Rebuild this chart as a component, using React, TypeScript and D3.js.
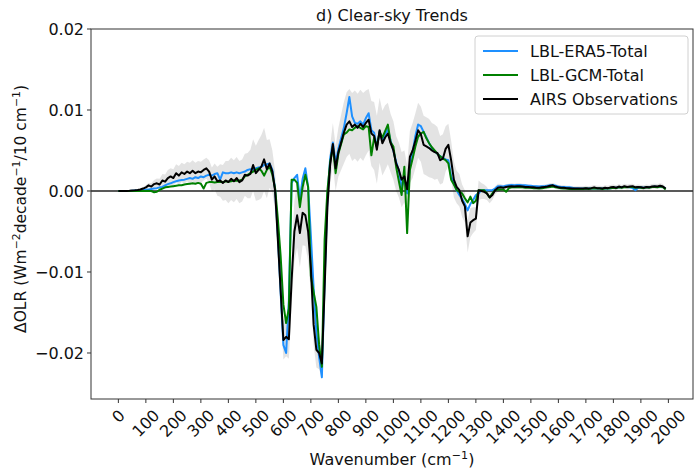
import React from 'react';
import * as d3 from 'd3';

// Spectral grid: 10 cm⁻¹ bins from 0 to 1990 cm⁻¹
const wavenumbers: number[] = d3.range(0, 2000, 10);

// All trend values below are in units of 10⁻³ W m⁻² decade⁻¹ / 10 cm⁻¹
const UNIT = 1e-3;

const era5Total = [
  0, 0, 0, 0, 0.01, 0.03, 0.05, 0.07, 0.1, 0.12,
  0.15, 0.2, 0.25, 0.3, 0.35, 0.45, 0.5, 0.7, 0.85, 0.95,
  1.1, 1.2, 1.3, 1.35, 1.4, 1.5, 1.6, 1.5, 1.7, 1.6,
  1.8, 1.7, 1.9, 2.0, 1.9, 2.1, 2.2, 1.4, 2.3, 2.2,
  2.2, 2.3, 2.2, 2.3, 2.2, 2.3, 2.4, 2.6, 2.7, 2.6,
  2.8, 2.9, 3.0, 3.2, 3.3, 3.4, 2.6, 0.2, -5.5, -12.5,
  -19.0, -20.0, -13.5, 1.0, 1.6, 2.0, -1.0, 1.5, 2.8, 0.5,
  -5.5, -12.0, -17.5, -20.5, -23.0, -11.0, -1.0, 4.0, 6.0, 3.5,
  5.2, 6.5, 7.8, 9.6, 11.6, 9.2, 8.4, 8.3, 8.6, 8.2,
  9.0, 9.6, 7.5, 7.2, 5.4, 7.4, 6.2, 7.0, 7.6, 6.2,
  5.0, 3.6, 2.5, 0.5, 1.5, -0.3, 3.0, 4.8, 6.8, 8.2,
  8.0, 7.3, 6.6, 5.9, 5.3, 4.9, 4.6, 4.3, 4.1, 3.9,
  3.8, 1.8, 1.0, 0.1, -0.5, -1.0, -1.6, -2.4, -1.6, -1.1,
  -0.5, -0.3, 0.1, 0.1, 0.1, 0.1, 0.1, 0.3, 0.6, 0.6,
  0.55, 0.65, 0.7, 0.75, 0.7, 0.75, 0.75, 0.7, 0.7, 0.65,
  0.65, 0.6, 0.6, 0.55, 0.6, 0.6, 0.65, 0.7, 0.75, 0.65,
  0.55, 0.5, 0.5, 0.45, 0.45, 0.4, 0.35, 0.35, 0.3, 0.3,
  0.3, 0.3, 0.3, 0.35, 0.3, 0.3, 0.3, 0.3, 0.3, 0.35,
  0.4, 0.4, 0.45, 0.45, 0.5, 0.5, 0.45, 0.35, 0.1, 0.4,
  0.45, 0.4, 0.45, 0.45, 0.5, 0.55, 0.5, 0.55, 0.5, 0.3,
];

const gcmTotal = [
  0, 0, 0, 0, 0, 0, 0, 0, 0, 0,
  0, 0.02, 0, -0.15, -0.1, 0.15, 0.3, 0.45, 0.5, 0.55,
  0.6, 0.65, 0.7, 0.7, 0.8, 0.85, 0.9, 0.95, 0.9, 1.0,
  0.9, 0.3, 1.0, 1.1, 1.1, 1.05, 1.1, 1.15, 1.1, 1.2,
  1.15, 1.2, 1.3, 1.25, 1.3, 1.4, 1.8, 2.0, 2.2, 2.4,
  2.6, 2.8, 2.5, 1.9, 2.6, 3.0, 2.0, 0.3, -3.5, -8.0,
  -14.0, -16.3, -14.5, 1.4, 1.4, 1.0, -2.0, 0.5, 2.0, 0.5,
  -10.5, -12.5, -14.3, -19.0, -21.7, -6.0, 0.0, 3.5, 5.5, 2.2,
  4.6, 5.8, 7.0, 7.2, 7.6, 7.5, 7.8, 8.0, 7.8, 7.6,
  8.0, 7.9, 4.4, 6.6, 5.5, 7.3, 6.6, 7.4, 8.2, 6.0,
  5.5, 3.0, 1.2, -0.5, 3.0, -5.2, 2.6, 4.0, 5.5, 6.7,
  7.1, 7.3, 6.5, 5.9, 5.4, 5.0, 4.6, 4.3, 4.0, 3.8,
  3.4, 1.4, 0.8, 0.1, -0.1, -0.3, -0.9, -1.4, -0.7, -1.5,
  -1.2, 0.1, 0.1, 0.1, -0.3, -0.8, -0.3, 0.1, 0.2, 0.2,
  0.2, -0.1, 0.35, 0.45, 0.45, 0.5, 0.45, 0.45, 0.4, 0.4,
  0.4, 0.35, 0.35, 0.3, 0.35, 0.4, 0.45, 0.5, 0.55, 0.45,
  0.4, 0.35, 0.3, 0.3, 0.25, 0.25, 0.25, 0.25, 0.25, 0.25,
  0.3, 0.25, 0.3, 0.35, 0.3, 0.3, 0.25, 0.3, 0.3, 0.35,
  0.4, 0.35, 0.45, 0.4, 0.5, 0.45, 0.5, 0.5, 0.4, 0.45,
  0.4, 0.35, 0.45, 0.4, 0.5, 0.5, 0.45, 0.55, 0.5, 0.2,
];

const airsObs = [
  0, 0, 0, 0, 0.02, 0.05, 0.08, 0.12, 0.18, 0.3,
  0.45, 0.7, 0.55, 0.85, 0.95, 0.8, 1.3, 1.15, 1.6, 1.8,
  1.6, 2.2, 1.9, 2.3, 2.1, 2.4, 2.2, 2.5, 2.2, 2.4,
  2.3, 2.6, 2.8, 2.4, 1.4, 1.8, 1.2, 1.3, 1.0, 1.3,
  1.1, 1.5, 1.2, 1.6, 1.1, 1.3, 2.0, 1.9, 2.1, 3.2,
  2.2, 2.6, 3.0, 3.9, 2.7, 3.4, 2.4, 0.0, -6.0, -12.2,
  -18.4, -18.0, -18.3, -11.0, -5.0, -3.0, -5.2, -2.7, -3.0, -5.0,
  -9.5, -16.5, -19.6, -20.0, -21.3, -12.0, -2.0, 3.2, 5.8, 2.8,
  4.8, 6.0, 7.2, 8.2, 8.6, 7.9, 8.2, 7.8, 8.3, 7.9,
  8.4, 8.8, 7.1, 6.8, 5.1, 7.5, 5.9, 6.6, 7.1, 5.9,
  5.0, 3.4, 2.6, 1.4, 1.8, 0.2, 4.2, 5.0, 6.2, 7.5,
  7.0, 5.7, 5.5, 5.3, 5.0, 4.8, 4.7, 3.8, 4.0, 5.2,
  5.7, 3.8, 1.4, 0.5, 0.1, -1.2, -1.9, -5.6, -3.9, -3.6,
  -3.4, 0.1, 0.0, -0.1, -0.3, -0.8, -0.5, 0.1, 0.4, 0.45,
  0.4, 0.5, 0.55, 0.6, 0.55, 0.6, 0.6, 0.55, 0.5, 0.5,
  0.45, 0.45, 0.4, 0.4, 0.45, 0.5, 0.55, 0.65, 0.7, 0.55,
  0.45, 0.4, 0.4, 0.35, 0.35, 0.3, 0.3, 0.3, 0.3, 0.3,
  0.35, 0.3, 0.35, 0.45, 0.35, 0.35, 0.3, 0.4, 0.35, 0.45,
  0.5, 0.4, 0.55, 0.45, 0.6, 0.5, 0.55, 0.6, 0.45, 0.5,
  0.45, 0.4, 0.5, 0.45, 0.55, 0.6, 0.55, 0.65, 0.55, 0.3,
];

// Half-width of the observational uncertainty envelope around the AIRS trend
const airsSpread = [
  0, 0, 0.02, 0.03, 0.05, 0.08, 0.1, 0.12, 0.15, 0.2,
  0.25, 0.3, 0.4, 0.5, 0.6, 0.7, 0.8, 0.9, 1.0, 1.0,
  1.1, 1.1, 1.2, 1.2, 1.2, 1.2, 1.3, 1.3, 1.3, 1.3,
  1.3, 1.3, 1.3, 1.4, 1.5, 1.6, 1.8, 2.0, 2.2, 2.4,
  2.6, 2.6, 2.6, 2.6, 2.6, 2.6, 2.6, 2.8, 3.0, 3.2,
  3.4, 3.7, 3.9, 3.9, 3.6, 3.0, 2.6, 2.4, 2.2, 2.2,
  2.4, 2.4, 2.4, 3.0, 3.8, 4.0, 4.2, 4.0, 3.8, 3.6,
  3.0, 2.5, 2.2, 2.0, 1.8, 2.0, 2.2, 2.4, 2.6, 2.8,
  3.0, 3.4, 3.8, 4.0, 4.0, 4.2, 4.2, 4.2, 4.2, 4.2,
  4.0, 3.8, 4.0, 4.2, 4.2, 4.0, 4.0, 4.0, 3.8, 3.6,
  3.6, 3.4, 3.4, 3.4, 3.2, 3.0, 3.2, 3.4, 3.4, 3.4,
  3.4, 3.6, 3.6, 3.6, 3.4, 3.4, 3.2, 3.0, 3.0, 2.8,
  2.6, 2.4, 2.2, 2.0, 2.0, 2.0, 2.0, 2.0, 1.8, 1.6,
  1.4, 1.2, 1.0, 0.9, 0.8, 0.7, 0.6, 0.5, 0.5, 0.4,
  0.35, 0.35, 0.35, 0.35, 0.35, 0.35, 0.35, 0.35, 0.35, 0.35,
  0.3, 0.3, 0.3, 0.3, 0.3, 0.3, 0.3, 0.3, 0.3, 0.3,
  0.3, 0.3, 0.3, 0.3, 0.3, 0.3, 0.3, 0.3, 0.3, 0.3,
  0.3, 0.3, 0.3, 0.3, 0.3, 0.3, 0.3, 0.3, 0.3, 0.3,
  0.3, 0.3, 0.3, 0.3, 0.3, 0.3, 0.3, 0.3, 0.3, 0.3,
  0.3, 0.3, 0.3, 0.3, 0.3, 0.3, 0.3, 0.3, 0.3, 0.2,
];

const xTicks = d3.range(0, 2100, 100);
const yTicks = [-0.02, -0.01, 0, 0.01, 0.02];

const seriesNames = ['LBL-ERA5-Total', 'LBL-GCM-Total', 'AIRS Observations'];
const seriesColors = ['#1e90ff', '#008000', '#000000'];

// Axis labels as [text, isSuperscript] runs
const xLabelRuns: [string, boolean][] = [
  ['Wavenumber (cm', false],
  ['\u22121', true],
  [')', false],
];
const yLabelRuns: [string, boolean][] = [
  ['ΔOLR (Wm', false],
  ['\u22122', true],
  ['decade', false],
  ['\u22121', true],
  ['/10 cm', false],
  ['\u22121', true],
  [')', false],
];

const FONT = '"DejaVu Sans", Verdana, sans-serif';
const W = 694;
const H = 469;
const PLOT = { left: 91, right: 693, top: 29, bottom: 399 };
const FS = 16;

type Pt = { wn: number; v: number; s: number };

function Runs({ runs, size }: { runs: [string, boolean][]; size: number }) {
  const shift = Math.round(size * 0.4);
  let raised = false;
  return (
    <>
      {runs.map(([t, isSup], i) => {
        let dy = 0;
        if (isSup && !raised) {
          dy = -shift;
          raised = true;
        } else if (!isSup && raised) {
          dy = shift;
          raised = false;
        }
        return (
          <tspan key={i} dy={dy} fontSize={isSup ? size * 0.7 : size}>
            {t}
          </tspan>
        );
      })}
    </>
  );
}

export default function App() {
  const x = d3.scaleLinear().domain([-99.5, 2089.5]).range([PLOT.left, PLOT.right]);
  const y = d3.scaleLinear().domain([-0.02568, 0.02]).range([PLOT.bottom, PLOT.top]);

  const toPts = (vals: number[], spread?: number[]): Pt[] =>
    wavenumbers.map((wn, i) => ({ wn, v: vals[i] * UNIT, s: spread ? spread[i] * UNIT : 0 }));

  const series = [toPts(era5Total), toPts(gcmTotal), toPts(airsObs)];
  const bandPts = toPts(airsObs, airsSpread);

  const line = d3
    .line<Pt>()
    .x((d) => x(d.wn))
    .y((d) => y(d.v));

  const band = d3
    .area<Pt>()
    .x((d) => x(d.wn))
    .y0((d) => y(d.v - d.s))
    .y1((d) => y(d.v + d.s));

  const fmtY = (v: number) => (v < 0 ? '\u2212' : '') + Math.abs(v).toFixed(2);

  // rotated tick label geometry (45°, centred under the tick)
  const charW = FS * 0.636;
  const lineH = FS * 1.164;
  const labelTop = PLOT.bottom + 7;

  const legendX = 475;
  const legendY = 36;

  return (
    <svg
      width={W}
      height={H}
      viewBox={`0 0 ${W} ${H}`}
      style={{ position: 'fixed', left: 0, top: 0, background: '#fff' }}
      fontFamily={FONT}
    >
      <defs>
        <clipPath id="plot-clip">
          <rect x={PLOT.left} y={PLOT.top} width={PLOT.right - PLOT.left} height={PLOT.bottom - PLOT.top} />
        </clipPath>
      </defs>

      <text x={(PLOT.left + PLOT.right) / 2} y={21} textAnchor="middle" fontSize={FS} fill="#111">
        d) Clear-sky Trends
      </text>

      <g clipPath="url(#plot-clip)">
        <path d={band(bandPts) ?? ''} fill="#d9d9d9" fillOpacity={0.75} stroke="none" />
        <line x1={PLOT.left} x2={PLOT.right} y1={y(0)} y2={y(0)} stroke="#222" strokeWidth={1.6} />
        {series.map((pts, i) => (
          <path
            key={seriesNames[i]}
            d={line(pts) ?? ''}
            fill="none"
            stroke={seriesColors[i]}
            strokeWidth={2}
            strokeLinejoin="round"
          />
        ))}
      </g>

      {/* frame */}
      <rect
        x={PLOT.left}
        y={PLOT.top}
        width={PLOT.right - PLOT.left}
        height={PLOT.bottom - PLOT.top}
        fill="none"
        stroke="#333"
        strokeWidth={1}
      />

      {/* y axis */}
      {yTicks.map((t) => (
        <g key={t} transform={`translate(0,${y(t)})`}>
          <line x1={PLOT.left - 4} x2={PLOT.left} stroke="#333" strokeWidth={1} />
          <text x={PLOT.left - 7} dy="0.35em" textAnchor="end" fontSize={FS} fill="#111">
            {fmtY(t)}
          </text>
        </g>
      ))}

      {/* x axis */}
      {xTicks.map((t) => {
        const label = String(t);
        const s = (label.length * charW + lineH) * Math.SQRT1_2;
        const cx = x(t);
        const cy = labelTop + s / 2;
        return (
          <g key={t}>
            <line x1={cx} x2={cx} y1={PLOT.bottom} y2={PLOT.bottom + 4} stroke="#333" strokeWidth={1} />
            <text
              transform={`translate(${cx},${cy}) rotate(-45)`}
              textAnchor="middle"
              dominantBaseline="central"
              fontSize={FS}
              fill="#111"
            >
              {label}
            </text>
          </g>
        );
      })}

      <text x={(PLOT.left + PLOT.right) / 2} y={465} textAnchor="middle" fontSize={FS} fill="#111">
        <Runs runs={xLabelRuns} size={FS} />
      </text>

      <text
        transform={`translate(26,${(PLOT.top + PLOT.bottom) / 2 - 5}) rotate(-90)`}
        textAnchor="middle"
        fontSize={15.5}
        fill="#111"
      >
        <Runs runs={yLabelRuns} size={15.5} />
      </text>

      {/* legend */}
      <g>
        <rect
          x={legendX}
          y={legendY}
          width={213}
          height={78}
          rx={3}
          fill="#fff"
          fillOpacity={0.85}
          stroke="#d0d0d0"
          strokeWidth={1}
        />
        {seriesNames.map((name, i) => (
          <g key={name} transform={`translate(${legendX},${legendY + 15 + i * 24})`}>
            <line x1={8} x2={43} y1={0} y2={0} stroke={seriesColors[i]} strokeWidth={2} />
            <text x={55} dy="0.35em" fontSize={FS} fill="#111">
              {name}
            </text>
          </g>
        ))}
      </g>
    </svg>
  );
}
